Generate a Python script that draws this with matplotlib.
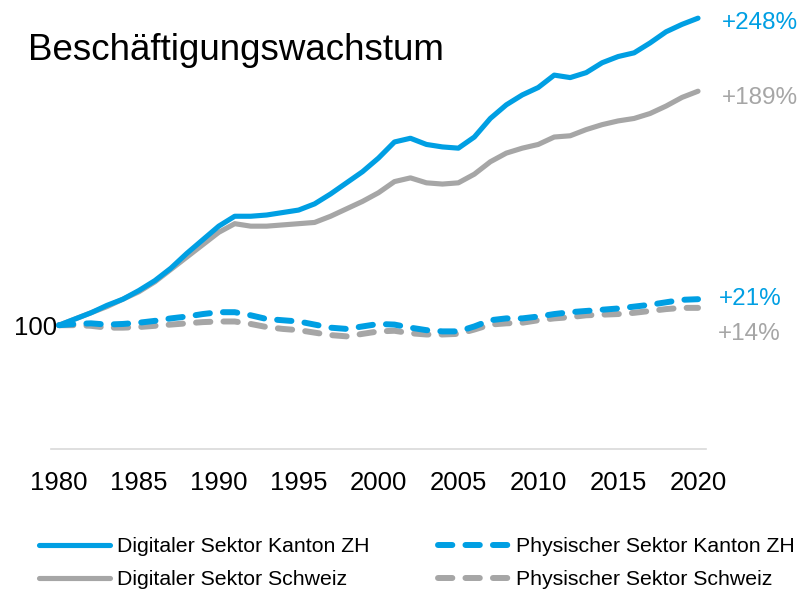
import matplotlib.pyplot as plt
import numpy as np

plt.rcParams['font.family'] = ['Liberation Sans', 'DejaVu Sans']

BLUE = "#009FE3"
GREY = "#A6A6A6"

years = np.arange(1980, 2021)

# index 1980 = 100
digital_zh = [100, 105, 110, 116, 121, 128, 136, 146, 158, 169,
              180, 188, 188, 189, 191, 193, 198, 206, 215, 224,
              235, 248, 251, 246, 244, 243, 252, 267, 278, 286,
              292, 302, 300, 304, 312, 317, 320, 328, 337, 343, 348]
digital_ch = [100, 105, 110, 115, 121, 127, 135, 145, 155, 165,
              175, 182, 180, 180, 181, 182, 183, 188, 194, 200,
              207, 216, 219, 215, 214, 215, 222, 232, 239, 243,
              246, 252, 253, 258, 262, 265, 267, 271, 277, 284, 289]
physical_zh = [100, 101, 101.5, 100.5, 101, 102, 103.5, 105.5, 107, 109,
               110.5, 110.5, 108, 105, 104, 103, 100.5, 98, 97, 99,
               101, 100.5, 98, 96, 95, 95, 99, 104, 105.5, 105.5,
               107, 109, 110.5, 111.5, 112.5, 113.5, 115, 116.5, 118.5, 120.5, 121]
physical_ch = [100, 100, 99.5, 98, 98, 98.5, 99.5, 100.5, 101.5, 102.5,
               103, 103, 101, 98.5, 97, 96, 94, 92, 91, 93,
               95, 95.5, 93.5, 92.5, 92.5, 93, 96.5, 100.5, 101.5, 102,
               104, 105.5, 106.5, 108, 108.5, 109, 110, 111.5, 113, 114, 114]

labels = ["Digitaler Sektor Kanton ZH", "Digitaler Sektor Schweiz",
          "Physischer Sektor Kanton ZH", "Physischer Sektor Schweiz"]
end_labels = ["+248%", "+189%", "+21%", "+14%"]

fig = plt.figure(figsize=(8.07, 5.91), dpi=100)
ax = fig.add_axes([51 / 807, 1 - 449 / 591, 655 / 807, 439.5 / 591])

dash = (0, (2.4, 2.2))
ax.plot(years, digital_zh, color=BLUE, lw=3.7, solid_capstyle='round', label=labels[0], zorder=4)
ax.plot(years, digital_ch, color=GREY, lw=3.7, solid_capstyle='round', label=labels[1], zorder=3)
ax.plot(years, physical_zh, color=BLUE, lw=4.3, linestyle=dash, dash_capstyle='round',
        label=labels[2], zorder=4)
ax.plot(years, physical_ch, color=GREY, lw=4.3, linestyle=dash, dash_capstyle='round',
        label=labels[3], zorder=3)

ax.set_xlim(1979.5, 2020.5)
ax.set_ylim(0, 355)
ax.set_xticks(np.arange(1980, 2021, 5))
ax.set_yticks([100])
ax.tick_params(axis='x', length=0, pad=16, labelsize=18.5)
ax.tick_params(axis='y', length=0, pad=-4.5, labelsize=18.5)

for side in ["top", "right", "left"]:
    ax.spines[side].set_visible(False)
ax.spines["bottom"].set_color("#D9D9D9")
ax.spines["bottom"].set_linewidth(1.2)

# end-of-line labels
ends = [digital_zh[-1], digital_ch[-1], physical_zh[-1], physical_ch[-1]]
colors = [BLUE, GREY, BLUE, GREY]
offsets = [(17, -3.5), (17, -5), (15, 0.5), (14, -18.5)]
for val, txt, c, off in zip(ends, end_labels, colors, offsets):
    ax.annotate(txt, xy=(2020, val), xytext=off, textcoords='offset points',
                color=c, fontsize=17.5, va='center', ha='left')

fig.text(28 / 807, 1 - 50 / 591, "Beschäftigungswachstum", fontsize=26.5,
         va='center', ha='left')

fig.legend(loc='upper left', bbox_to_anchor=(39 / 807, 1 - 537 / 591), ncol=2,
           frameon=False, fontsize=15.3, handlelength=3.35, handletextpad=0.3,
           columnspacing=3.25, labelspacing=0.68, borderpad=0, borderaxespad=0)

fig.savefig("out.png", dpi=100)
